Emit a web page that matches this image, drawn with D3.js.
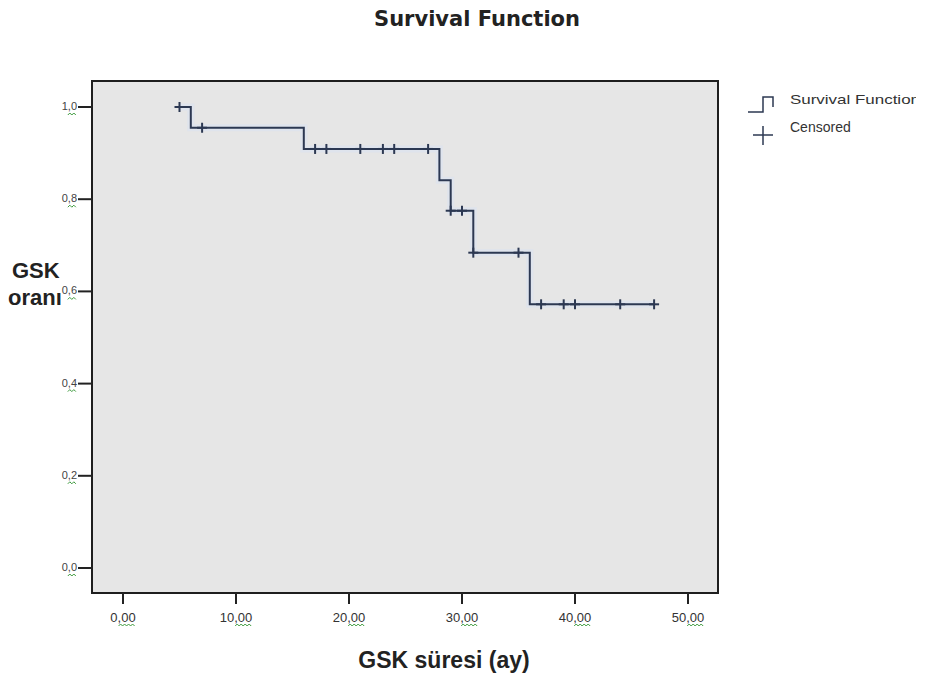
<!DOCTYPE html>
<html>
<head>
<meta charset="utf-8">
<script src="https://cdn.jsdelivr.net/npm/d3@7"></script>
<style>
  body { margin: 0; background: #fff; }
  text { font-family: "Liberation Sans", Arial, sans-serif; }
</style>
</head>
<body>
<div id="chart"></div>
<script>
// Kaplan-Meier steps
const stepTimes = [5, 6, 16, 28, 29, 31, 36, 47];
const stepSurv = [1.0, 0.955, 0.909, 0.841, 0.775, 0.684, 0.572, 0.572];
const censorTimes = [5, 7, 17, 18, 21, 23, 24, 27, 29, 30, 31, 35, 37, 39, 40, 44, 47];
const xTicks = [0, 10, 20, 30, 40, 50];
const yTicks = [0, 0.2, 0.4, 0.6, 0.8, 1.0];

const W = 930, H = 680;
const frame = { left: 92, top: 81, right: 718, bottom: 593 };

const svg = d3.select("#chart").append("svg")
    .attr("width", W).attr("height", H);

const x = d3.scaleLinear().domain([0, 50]).range([123, 688]);
const y = d3.scaleLinear().domain([0, 1]).range([568, 107]);

// plot background + frame
svg.append("rect")
    .attr("x", frame.left).attr("y", frame.top)
    .attr("width", frame.right - frame.left)
    .attr("height", frame.bottom - frame.top)
    .attr("fill", "#e6e6e6")
    .attr("stroke", "#1e1e1e")
    .attr("stroke-width", 2);

// title
svg.append("text")
    .attr("x", 477).attr("y", 26)
    .attr("text-anchor", "middle")
    .attr("font-size", 21).attr("font-weight", "bold")
    .style("font-family", "'DejaVu Sans', Verdana, sans-serif")
    .attr("fill", "#222")
    .text("Survival Function");

function squiggle(g, x0, x1, yy) {
    let p = `M${x0},${yy}`;
    let up = true;
    for (let xx = x0 + 2; xx <= x1; xx += 2) {
        p += ` L${xx},${up ? yy - 2 : yy}`;
        up = !up;
    }
    g.append("path").attr("d", p)
        .attr("fill", "none").attr("stroke", "#3c9a3c").attr("stroke-width", 1);
}

const fmt = d => d.toFixed(2).replace(".", ",");
const fmtY = d => d.toFixed(1).replace(".", ",");

// x axis
const xAxis = svg.append("g");
xTicks.forEach(t => {
    xAxis.append("line")
        .attr("x1", x(t)).attr("x2", x(t))
        .attr("y1", frame.bottom).attr("y2", frame.bottom + 11)
        .attr("stroke", "#222").attr("stroke-width", 2);
    const lbl = xAxis.append("text")
        .attr("x", x(t)).attr("y", 622)
        .attr("text-anchor", "middle")
        .attr("font-size", 13).attr("fill", "#333")
        .text(fmt(t));
    const s = fmt(t);
    const ci = s.indexOf(",");
    const n = lbl.node();
    const sx = n.getStartPositionOfChar(ci).x;
    const ex = n.getEndPositionOfChar(s.length - 1).x;
    squiggle(xAxis, sx + 1, ex, 626);
});

// y axis
const yAxis = svg.append("g");
yTicks.forEach(t => {
    yAxis.append("line")
        .attr("x1", frame.left - 14).attr("x2", frame.left)
        .attr("y1", y(t)).attr("y2", y(t))
        .attr("stroke", "#222").attr("stroke-width", 2);
    const lbl = yAxis.append("text")
        .attr("x", 77).attr("y", y(t) + 3)
        .attr("text-anchor", "end")
        .attr("font-size", 11).attr("fill", "#444")
        .text(fmtY(t));
    const s = fmtY(t);
    const n = lbl.node();
    const sx = n.getStartPositionOfChar(1).x;
    const ex = n.getEndPositionOfChar(s.length - 1).x;
    squiggle(yAxis, sx, ex, y(t) + 8);
});

// axis titles
svg.append("text")
    .attr("x", 444).attr("y", 668)
    .attr("text-anchor", "middle")
    .attr("font-size", 23).attr("font-weight", "bold")
    .attr("fill", "#222")
    .text("GSK süresi (ay)");

svg.append("text")
    .attr("x", 12).attr("y", 278)
    .attr("font-size", 22).attr("font-weight", "bold")
    .attr("fill", "#222")
    .text("GSK");
svg.append("text")
    .attr("x", 8).attr("y", 305)
    .attr("font-size", 22).attr("font-weight", "bold")
    .attr("fill", "#222")
    .text("oranı");

// survival curve
const steps = stepTimes.map((t, i) => ({ t: t, s: stepSurv[i] }));
const line = d3.line()
    .x(d => x(d.t)).y(d => y(d.s))
    .curve(d3.curveStepAfter);

svg.append("path")
    .datum(steps)
    .attr("d", line)
    .attr("fill", "none")
    .attr("stroke", "#dbe3f2")
    .attr("stroke-width", 7)
    .attr("opacity", 0.6);

svg.append("path")
    .datum(steps)
    .attr("d", line)
    .attr("fill", "none")
    .attr("stroke", "#2c3852")
    .attr("stroke-width", 2);

// censored marks sit on the step value at that time
const bis = d3.bisector(d => d.t).right;
const survAt = t => steps[Math.max(0, bis(steps, t) - 1)].s;

const marks = svg.append("g")
    .attr("stroke", "#2c3852").attr("stroke-width", 2);
censorTimes.forEach(t => {
    const cx = x(t), cy = y(survAt(t));
    marks.append("line")
        .attr("x1", cx - 5).attr("x2", cx + 5)
        .attr("y1", cy).attr("y2", cy);
    marks.append("line")
        .attr("x1", cx).attr("x2", cx)
        .attr("y1", cy - 5).attr("y2", cy + 5);
});

// legend
svg.append("clipPath").attr("id", "legclip")
    .append("rect").attr("x", 740).attr("y", 80).attr("width", 176).attr("height", 70);

const leg = svg.append("g").attr("clip-path", "url(#legclip)");
leg.append("path")
    .attr("d", "M748,112 H763 V97 H773 V107")
    .attr("fill", "none").attr("stroke", "#2c3852").attr("stroke-width", 1.5);
leg.append("text")
    .attr("x", 790).attr("y", 104)
    .attr("font-size", 13).attr("fill", "#333")
    .attr("textLength", 130).attr("lengthAdjust", "spacingAndGlyphs")
    .text("Survival Function");
leg.append("line")
    .attr("x1", 753).attr("x2", 773).attr("y1", 135).attr("y2", 135)
    .attr("stroke", "#2c3852").attr("stroke-width", 1.5);
leg.append("line")
    .attr("x1", 763).attr("x2", 763).attr("y1", 126).attr("y2", 145)
    .attr("stroke", "#2c3852").attr("stroke-width", 1.5);
leg.append("text")
    .attr("x", 790).attr("y", 132)
    .attr("font-size", 14).attr("fill", "#333")
    .text("Censored");
</script>
</body>
</html>
